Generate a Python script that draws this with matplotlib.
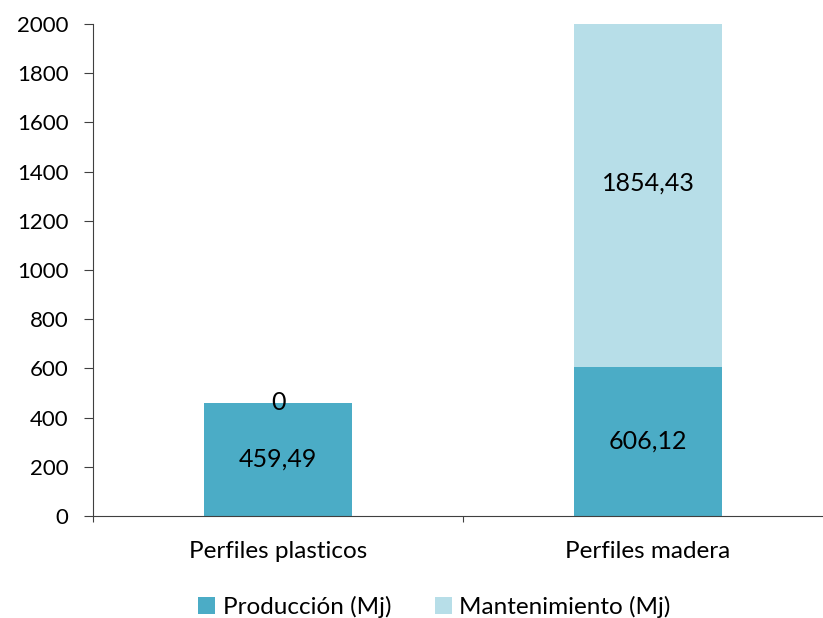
import numpy as np
import matplotlib.pyplot as plt

categorias = ["Perfiles plasticos", "Perfiles madera"]
produccion = [459.49, 606.12]
mantenimiento = [0, 1854.43]
etiquetas_prod = ["459,49", "606,12"]
etiquetas_mant = ["0", "1854,43"]
y_ticks = [0, 200, 400, 600, 800, 1000, 1200, 1400, 1600, 1800, 2000]

plt.rcParams['font.family'] = ['Lato', 'DejaVu Sans']
color_prod = "#4BACC6"
color_mant = "#B7DEE8"

fig = plt.figure(figsize=(8.23, 6.18), dpi=100)
ax = fig.add_axes([93 / 823, 102 / 618, 740 / 823, 492 / 618])

x = np.arange(len(categorias))
ymax = 2000
ax.bar(x, produccion, width=0.4, color=color_prod, label="Producción (Mj)")
ax.bar(x, mantenimiento, width=0.4, bottom=produccion, color=color_mant,
       label="Mantenimiento (Mj)")

# data labels (centered on the visible part of each segment)
for i in range(len(categorias)):
    ax.text(x[i], produccion[i] / 2, etiquetas_prod[i], ha="center", va="center",
            fontsize=18, color="black")
    top = min(produccion[i] + mantenimiento[i], ymax)
    desp = 52 if mantenimiento[i] > 0 else 0
    ax.text(x[i], (produccion[i] + top) / 2 + desp, etiquetas_mant[i], ha="center",
            va="center", fontsize=18, color="black")

ax.set_xlim(-0.5, 1.5)
ax.set_ylim(0, ymax)
ax.set_yticks(y_ticks)
ax.set_xticks([-0.5, 0.5, 1.5])
ax.set_xticklabels([])
ax.set_xticks(x, minor=True)
ax.set_xticklabels(categorias, minor=True)
ax.tick_params(axis="x", which="major", length=4.5, direction="out", color="#404040")
ax.tick_params(axis="x", which="minor", length=0, pad=18, labelsize=17.5)
ax.tick_params(axis="y", length=6.5, pad=11, direction="out", labelsize=16,
               color="#404040")
for s in ["top", "right"]:
    ax.spines[s].set_visible(False)
for s in ["left", "bottom"]:
    ax.spines[s].set_color("#404040")

fig.legend(loc="lower center", bbox_to_anchor=(0.528, -0.035), ncol=2, frameon=False,
           fontsize=17.5, handlelength=0.7, handleheight=0.7, handletextpad=0.3,
           columnspacing=1.8)

fig.savefig("out.png", dpi=100)
